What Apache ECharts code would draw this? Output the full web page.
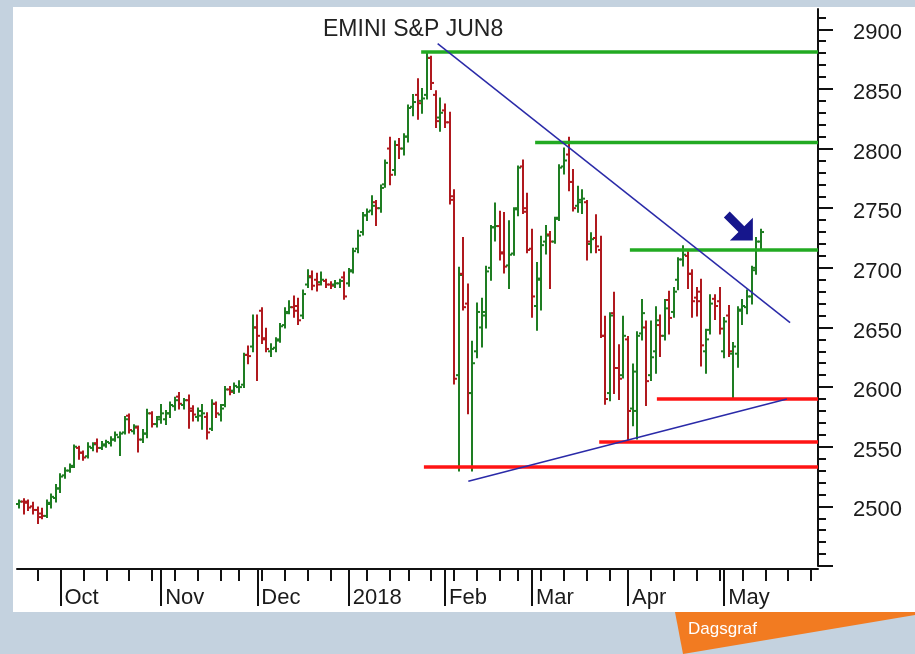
<!DOCTYPE html>
<html>
<head>
<meta charset="utf-8">
<script src="https://cdn.jsdelivr.net/npm/echarts@6/dist/echarts.min.js"></script>
<style>
  html, body { margin: 0; padding: 0; }
  #chart { width: 915px; height: 654px; }
</style>
</head>
<body>
<div id="chart"></div>
<script>
// daily bars, [open, high, low, close]
var sepBars = [
  [2502, 2505, 2499, 2504], [2504, 2506, 2494, 2503], [2504, 2505, 2497, 2499],
  [2500, 2503, 2494, 2497], [2497, 2499, 2486, 2491], [2494, 2498, 2490, 2492],
  [2492, 2505, 2491, 2503], [2502, 2510, 2499, 2508], [2507, 2518, 2504, 2515]
]
var octBars = [
  [2515, 2527, 2512, 2525], [2526, 2532, 2524, 2530], [2530, 2535, 2529, 2533],
  [2534, 2551, 2533, 2550], [2549, 2550, 2540, 2545], [2545, 2546, 2539, 2541],
  [2542, 2553, 2541, 2550], [2549, 2553, 2547, 2552], [2553, 2556, 2546, 2549],
  [2549, 2554, 2548, 2552], [2551, 2555, 2550, 2554], [2553, 2558, 2551, 2556],
  [2556, 2562, 2555, 2560], [2558, 2562, 2543, 2561], [2562, 2575, 2561, 2573],
  [2576, 2577, 2562, 2564], [2563, 2568, 2561, 2567], [2566, 2567, 2546, 2556],
  [2556, 2564, 2554, 2561], [2561, 2581, 2558, 2578], [2578, 2579, 2567, 2569],
  [2569, 2575, 2567, 2573]
]
var novBars = [
  [2575, 2585, 2570, 2578], [2573, 2580, 2569, 2578], [2578, 2587, 2575, 2585],
  [2584, 2591, 2581, 2589], [2592, 2595, 2582, 2586], [2585, 2590, 2582, 2589],
  [2589, 2593, 2566, 2580], [2582, 2584, 2572, 2577], [2575, 2582, 2572, 2580],
  [2576, 2585, 2565, 2578], [2575, 2578, 2557, 2562], [2565, 2589, 2564, 2586],
  [2586, 2587, 2575, 2578], [2577, 2585, 2572, 2582], [2585, 2600, 2584, 2598],
  [2598, 2600, 2594, 2596], [2597, 2603, 2595, 2601], [2600, 2605, 2596, 2600],
  [2602, 2628, 2600, 2627], [2627, 2634, 2620, 2626], [2634, 2660, 2630, 2650]
]
var decBars = [
  [2650, 2660, 2606, 2643], [2664, 2666, 2637, 2640], [2641, 2649, 2630, 2632],
  [2630, 2636, 2626, 2632], [2633, 2641, 2630, 2639], [2640, 2653, 2638, 2651],
  [2652, 2666, 2650, 2662], [2663, 2672, 2662, 2667], [2667, 2676, 2659, 2664],
  [2668, 2674, 2653, 2656], [2660, 2681, 2658, 2678], [2686, 2698, 2684, 2692],
  [2693, 2697, 2682, 2685], [2690, 2695, 2681, 2686], [2688, 2696, 2686, 2690],
  [2689, 2690, 2684, 2686], [2686, 2688, 2683, 2685], [2686, 2689, 2684, 2687],
  [2687, 2690, 2684, 2689], [2692, 2696, 2674, 2676]
]
var janBars = [
  [2687, 2699, 2685, 2697], [2698, 2716, 2696, 2714], [2716, 2731, 2713, 2727],
  [2730, 2746, 2728, 2744], [2744, 2749, 2740, 2747], [2748, 2760, 2745, 2752],
  [2755, 2756, 2736, 2750], [2750, 2769, 2747, 2767], [2770, 2790, 2768, 2788],
  [2800, 2809, 2770, 2778], [2782, 2806, 2778, 2803], [2803, 2808, 2792, 2800],
  [2800, 2812, 2795, 2810], [2810, 2836, 2806, 2834], [2835, 2845, 2828, 2839],
  [2845, 2858, 2825, 2838], [2840, 2850, 2830, 2842], [2845, 2880, 2842, 2876],
  [2876, 2877, 2850, 2855], [2845, 2848, 2818, 2823], [2826, 2842, 2815, 2830]
]
var febBars = [
  [2832, 2837, 2818, 2822], [2822, 2830, 2754, 2757], [2760, 2765, 2603, 2607],
  [2610, 2700, 2530, 2694], [2695, 2725, 2665, 2667], [2670, 2686, 2578, 2595],
  [2595, 2638, 2530, 2620], [2630, 2670, 2625, 2663], [2650, 2674, 2634, 2663],
  [2660, 2701, 2650, 2697], [2700, 2735, 2690, 2734], [2734, 2754, 2723, 2735],
  [2735, 2747, 2707, 2712], [2713, 2746, 2696, 2701], [2702, 2739, 2683, 2711],
  [2712, 2750, 2711, 2749], [2750, 2785, 2744, 2784], [2785, 2790, 2746, 2747],
  [2750, 2762, 2713, 2715]
]
var marBars = [
  [2716, 2732, 2659, 2676], [2668, 2704, 2648, 2691], [2690, 2726, 2665, 2719],
  [2722, 2735, 2712, 2727], [2728, 2730, 2683, 2722], [2722, 2742, 2721, 2741],
  [2742, 2786, 2740, 2784], [2785, 2800, 2779, 2790], [2795, 2809, 2765, 2772],
  [2772, 2782, 2748, 2750], [2752, 2768, 2747, 2757], [2755, 2765, 2746, 2758],
  [2755, 2756, 2707, 2722], [2720, 2729, 2713, 2724], [2725, 2744, 2713, 2718],
  [2715, 2726, 2642, 2643], [2643, 2659, 2586, 2590], [2595, 2662, 2589, 2660],
  [2662, 2679, 2595, 2616], [2616, 2635, 2590, 2607], [2610, 2659, 2608, 2643]
]
var aprBars = [
  [2640, 2642, 2556, 2580], [2582, 2619, 2568, 2613], [2580, 2646, 2557, 2643],
  [2645, 2673, 2640, 2662], [2650, 2655, 2585, 2605], [2610, 2655, 2606, 2625],
  [2630, 2667, 2612, 2656], [2652, 2660, 2626, 2643], [2643, 2673, 2640, 2666],
  [2673, 2680, 2645, 2658], [2663, 2683, 2659, 2680], [2690, 2708, 2682, 2707],
  [2707, 2718, 2702, 2711], [2710, 2713, 2683, 2695], [2695, 2698, 2659, 2672],
  [2675, 2683, 2660, 2672], [2680, 2690, 2618, 2635], [2630, 2648, 2612, 2640],
  [2648, 2677, 2645, 2670], [2674, 2677, 2657, 2668], [2672, 2683, 2645, 2649]
]
var mayBars = [
  [2630, 2658, 2625, 2655], [2660, 2668, 2626, 2630], [2628, 2637, 2591, 2634],
  [2628, 2667, 2617, 2664], [2665, 2673, 2653, 2668], [2667, 2681, 2662, 2676],
  [2676, 2701, 2670, 2698], [2700, 2725, 2695, 2722], [2722, 2732, 2715, 2730]
]

var monthLabels = ['Oct', 'Nov', 'Dec', '2018', 'Feb', 'Mar', 'Apr', 'May']
var majorTicks = [2450, 2500, 2550, 2600, 2650, 2700, 2750, 2800, 2850, 2900]
var priceLabels = [2500, 2550, 2600, 2650, 2700, 2750, 2800, 2850, 2900]

// drawn levels: price and the trading-day position where each line begins
var resistLevels = [2881, 2805, 2715]
var resistFrom = [87.8, 112.7, 133.4]
var supportLevels = [2590, 2554, 2533]
var supportFrom = [139.3, 126.7, 88.4]
var downTrend = [[91.4, 2888], [168.4, 2654]]
var upTrend = [[98.1, 2521], [167.7, 2590]]
var arrowAt = [157.1, 2735]

var holidays = ['2017-11-23', '2017-12-25', '2018-01-01', '2018-01-15', '2018-02-19', '2018-03-30', '2018-05-28']

// trading days, the axis runs on past the last bar to end of May
var days = []
var d = new Date(Date.UTC(2017, 8, 19))
var last = Date.UTC(2018, 4, 30)
while (d.getTime() <= last) {
  var key = d.toISOString().slice(0, 10)
  var wd = d.getUTCDay()
  if (wd !== 0 && wd !== 6 && holidays.indexOf(key) < 0) days.push(key)
  d.setUTCDate(d.getUTCDate() + 1)
}
var N = days.length

var weekStart = {}, monthStart = {}
var m = 0
days.forEach(function (day, i) {
  if (i === 0) return
  var prev = days[i - 1]
  if (new Date(day).getUTCDay() < new Date(prev).getUTCDay()) weekStart[i] = true
  if (day.slice(5, 7) !== prev.slice(5, 7)) monthStart[i] = monthLabels[m++]
})

var minorTicks = []
for (var v = 2460; v <= 2910; v += 10) {
  if (v % 50 !== 0) minorTicks.push(v)
}

var bars = sepBars.concat(octBars, novBars, decBars, janBars, febBars, marBars, aprBars, mayBars)
var barData = bars.map(function (b, i) { return [i, b[0], b[1], b[2], b[3]] })

var upColor = '#1e7d22'
var downColor = '#b0191e'
var font = 'Liberation Sans, Arial, sans-serif'

function renderBar(params, api) {
  var i = api.value(0)
  var o = api.value(1), c = api.value(4)
  var hi = api.coord([i, api.value(2)])
  var lo = api.coord([i, api.value(3)])
  var po = api.coord([i, o])
  var pc = api.coord([i, c])
  var x = Math.round(hi[0])
  var style = { stroke: c >= o ? upColor : downColor, lineWidth: 2 }
  return {
    type: 'group',
    children: [
      { type: 'line', shape: { x1: x, y1: hi[1] - 1, x2: x, y2: lo[1] + 1 }, style: style },
      { type: 'line', shape: { x1: x - 3, y1: po[1], x2: x, y2: po[1] }, style: style },
      { type: 'line', shape: { x1: x, y1: pc[1], x2: x + 3, y2: pc[1] }, style: style }
    ]
  }
}

function levelSeries(prices, from, color) {
  return prices.map(function (p, k) {
    return {
      type: 'line', xAxisIndex: 2, z: 4, symbol: 'none', silent: true,
      lineStyle: { color: color, width: 3.5 },
      data: [[from[k], p], [N - 0.5, p]]
    }
  })
}

function trendSeries(pts) {
  return {
    type: 'line', xAxisIndex: 2, z: 5, symbol: 'none', silent: true,
    lineStyle: { color: '#2a2aa8', width: 1.5 },
    data: pts
  }
}

var chart = echarts.init(document.getElementById('chart'))
var option = {
  animation: false,
  backgroundColor: '#c4d2df',
  title: {
    text: 'EMINI S&P JUN8', left: 323, top: 18, padding: 0,
    textStyle: { fontFamily: font, fontSize: 23, fontWeight: 'normal', color: '#222' }
  },
  graphic: [
    { type: 'rect', z: -10, shape: { x: 13, y: 7, width: 902, height: 605 }, style: { fill: '#fff' } },
    { type: 'polygon', shape: { points: [[675, 612], [915, 612], [915, 615], [683, 654]] }, style: { fill: '#f27b21' } },
    { type: 'text', left: 688, top: 621, style: { text: 'Dagsgraf', fill: '#fff', fontSize: 17, fontFamily: font } }
  ],
  grid: { left: 17, right: 97, top: 9, bottom: 88 },
  xAxis: [
    {
      type: 'category', data: days, position: 'bottom', offset: 3, boundaryGap: true,
      axisLine: { show: true, onZero: false, lineStyle: { color: '#111', width: 2 } },
      axisTick: {
        show: true, alignWithLabel: true, length: 12, lineStyle: { color: '#111', width: 2 },
        interval: function (i) { return !!weekStart[i] }
      },
      axisLabel: { show: false }
    },
    {
      type: 'category', data: days, position: 'bottom', offset: 3, boundaryGap: true,
      axisLine: { show: false, onZero: false },
      axisTick: {
        show: true, alignWithLabel: true, length: 37, lineStyle: { color: '#111', width: 2 },
        interval: function (i) { return !!monthStart[i] }
      },
      axisLabel: {
        interval: function (i) { return !!monthStart[i] },
        formatter: function (v, i) { return monthStart[i] || '' },
        align: 'left', padding: [0, 0, 0, 4], margin: 18,
        fontFamily: font, fontSize: 22, color: '#1a1a1a'
      }
    },
    { type: 'value', show: false, min: -0.5, max: N - 0.5 }
  ],
  yAxis: [
    {
      type: 'value', position: 'right', min: 2450, max: 2917,
      splitLine: { show: false },
      axisLine: { show: true, onZero: false, lineStyle: { color: '#111', width: 2 } },
      axisTick: { show: true, length: 15, lineStyle: { color: '#111', width: 2 }, customValues: majorTicks },
      axisLabel: {
        customValues: priceLabels, margin: 35,
        verticalAlign: 'top', lineHeight: 8,
        formatter: function (v) { return String(v) },
        fontFamily: font, fontSize: 22, color: '#1a1a1a'
      }
    },
    {
      type: 'value', position: 'right', min: 2450, max: 2917,
      splitLine: { show: false },
      axisLine: { show: false, onZero: false },
      axisTick: { show: true, length: 8, lineStyle: { color: '#111', width: 2 }, customValues: minorTicks },
      axisLabel: { show: false }
    }
  ],
  series: [
    {
      type: 'custom', xAxisIndex: 2, z: 3, silent: true,
      renderItem: renderBar,
      encode: { x: 0, y: [1, 2, 3, 4] },
      data: barData
    },
    trendSeries(downTrend),
    trendSeries(upTrend),
    {
      type: 'scatter', xAxisIndex: 2, z: 6, silent: true,
      symbol: 'path://M8,30 L16.2,21.8 L2.2,7.8 L7.8,2.2 L21.8,16.2 L30,8 L30,30 Z',
      symbolSize: 29,
      itemStyle: { color: '#16168c', opacity: 1 },
      data: [arrowAt]
    }
  ].concat(levelSeries(resistLevels, resistFrom, '#22aa22'), levelSeries(supportLevels, supportFrom, '#ff1414'))
}
chart.setOption(option)

window.addEventListener('resize', function () {
  chart.resize()
})
</script>
</body>
</html>
